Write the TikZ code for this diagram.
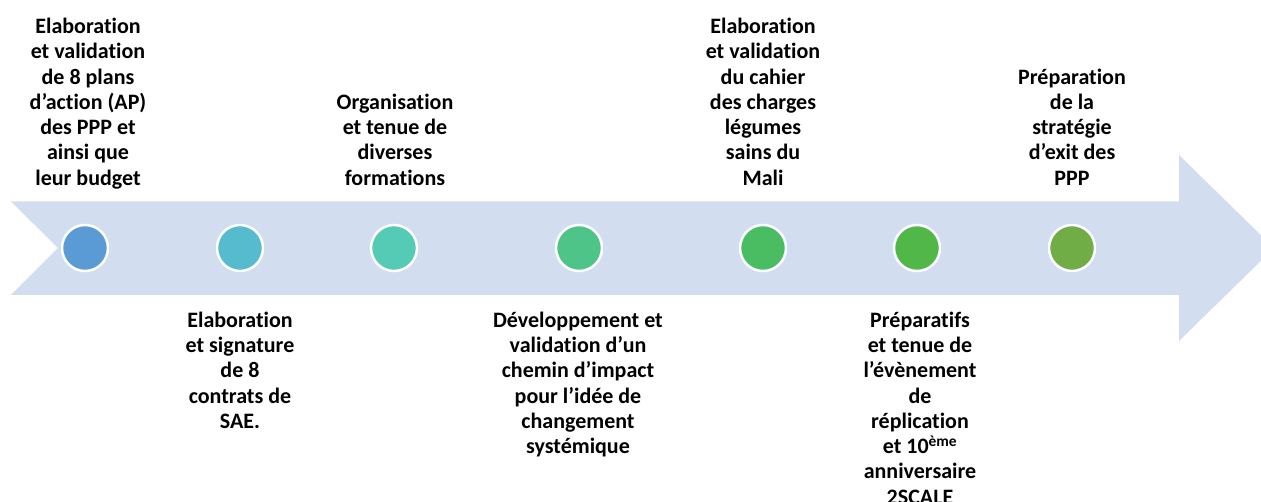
\documentclass[tikz,border=0pt]{standalone}
\usepackage{fontspec}
\setmainfont{Carlito}[Ligatures={NoCommon}]
\definecolor{arrowfill}{HTML}{D2DEEF}
\definecolor{cA}{HTML}{5B9BD5}
\definecolor{cB}{HTML}{57BBCF}
\definecolor{cC}{HTML}{55CAB5}
\definecolor{cD}{HTML}{4FC489}
\definecolor{cE}{HTML}{4ABD62}
\definecolor{cF}{HTML}{50B748}
\definecolor{cG}{HTML}{70AD47}
\begin{document}
\begin{tikzpicture}[x=1pt,y=-1pt,
  dot/.style={circle,minimum size=46pt,inner sep=0pt,draw=white,line width=2.5pt},
  lbl/.style={align=center,inner sep=0pt,font=\fontsize{22}{25.3}\selectfont\bfseries,
    execute at begin node=\strut,execute at end node=\strut},
  toplbl/.style={lbl,anchor=south},
  botlbl/.style={lbl,anchor=north}]
\useasboundingbox (0,0) rectangle (1261,502);
\fill[white] (0,0) rectangle (1261,502);
% timeline arrow
\fill[arrowfill] (11,201.5) -- (1179,201.5) -- (1179,155) -- (1274,248) -- (1179,341)
  -- (1179,295) -- (11,295) -- (58,248) -- cycle;
% dots
\node[dot,fill=cA] (d1) at (85,248) {};
\node[dot,fill=cB] (d2) at (240,248) {};
\node[dot,fill=cC] (d3) at (394,248) {};
\node[dot,fill=cD] (d4) at (579,248) {};
\node[dot,fill=cE] (d5) at (763,248) {};
\node[dot,fill=cF] (d6) at (917,248) {};
\node[dot,fill=cG] (d7) at (1072,248) {};
% labels above
\node[toplbl] (t1) at (88,193) {Elaboration\\et validation\\de 8 plans\\d’action (AP)\\des PPP et\\ainsi que\\leur budget};
\node[toplbl] (t3) at (395,193) {Organisation\\et tenue de\\diverses\\formations};
\node[toplbl] (t5) at (763,193) {Elaboration\\et validation\\du cahier\\des charges\\légumes\\sains du\\Mali};
\node[toplbl] (t7) at (1072,193) {Préparation\\de la\\stratégie\\d’exit des\\PPP};
% labels below
\node[botlbl] (b2) at (240,311.5) {Elaboration\\et signature\\de 8\\contrats de\\SAE.};
\node[botlbl] (b4) at (578,311.5) {Développement et\\validation d’un\\chemin d’impact\\pour l’idée de\\changement\\systémique};
\node[botlbl] (b6) at (920,311.5) {Préparatifs\\et tenue de\\l’évènement\\de\\réplication\\et 10\textsuperscript{ème}\\anniversaire\\2SCALE};
\end{tikzpicture}
\end{document}
